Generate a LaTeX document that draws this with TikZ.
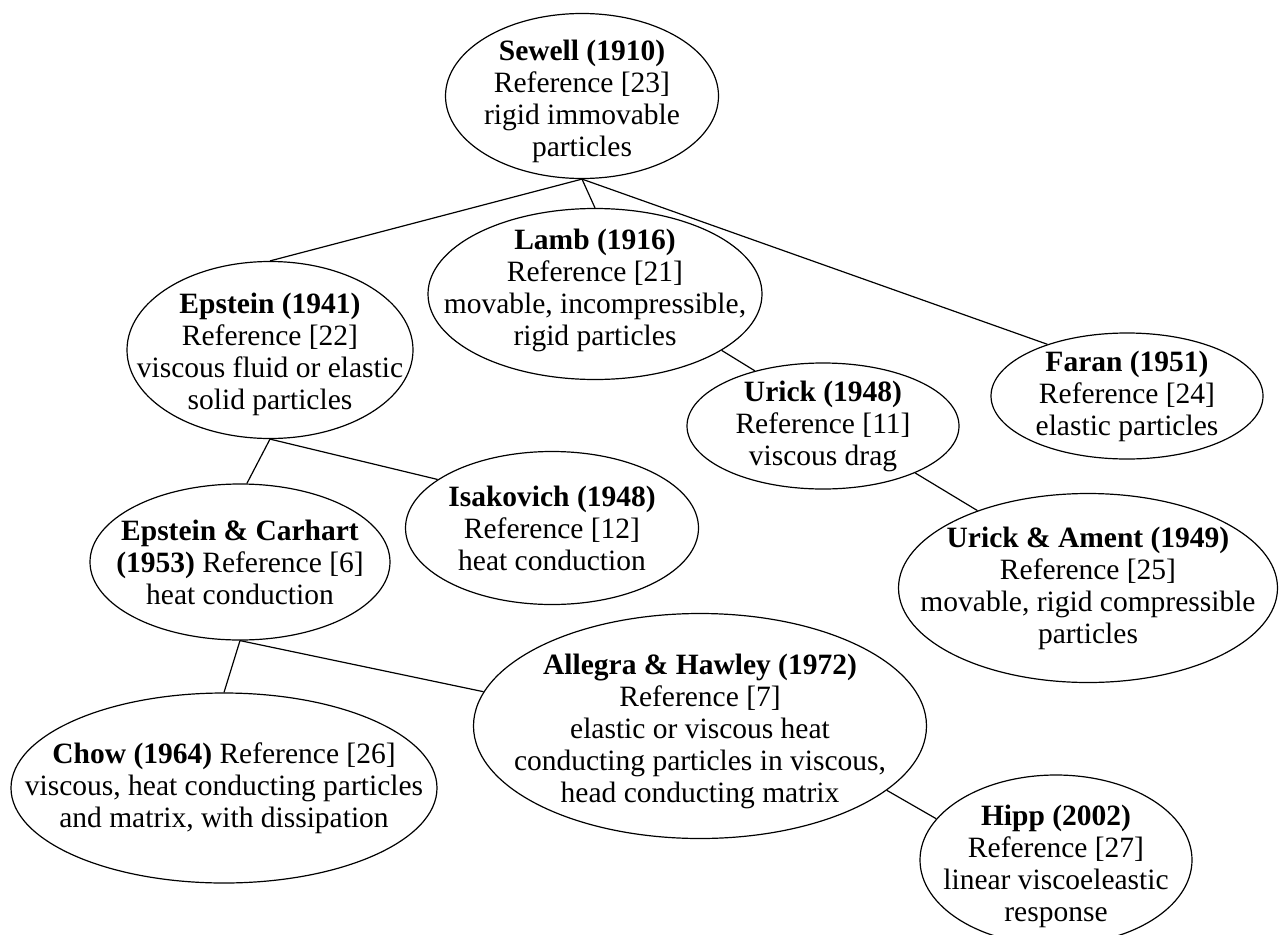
\documentclass[tikz,border=0pt]{standalone}
\usepackage{fontspec}
\setmainfont{Liberation Serif}
\usetikzlibrary{shapes.geometric}

\begin{document}
\begin{tikzpicture}[x=1pt,y=-1pt,line width=1.2pt,
  bubble/.style 2 args={draw,ellipse,inner sep=0pt,minimum width=#1pt,minimum height=#2pt},
  every label/.style={align=center,inner sep=0pt,font=\fontsize{29.5}{32}\selectfont}]
\clip (0,0) rectangle (1279,934);

\node[bubble={273}{165},label={[yshift=-5pt]center:{\textbf{Sewell (1910)}\\Reference [23]\\rigid immovable\\particles}}] (sewell) at (582,96) {};
\node[bubble={334}{171},label={[yshift=4pt]center:{\textbf{Lamb (1916)}\\Reference [21]\\movable, incompressible,\\rigid particles}}] (lamb) at (595,294) {};
\node[bubble={286}{177},label={[yshift=-4pt]center:{\textbf{Epstein (1941)}\\Reference [22]\\viscous fluid or elastic\\solid particles}}] (epstein) at (270,350) {};
\node[bubble={272}{126},label=center:{\textbf{Faran (1951)}\\Reference [24]\\elastic particles}] (faran) at (1127,396) {};
\node[bubble={272}{126},label=center:{\textbf{Urick (1948)}\\Reference [11]\\viscous drag}] (urick) at (823,426) {};
\node[bubble={293}{153},label=center:{\textbf{Isakovich (1948)}\\Reference [12]\\heat conduction}] (isakovich) at (552,528) {};
\node[bubble={300}{156},label=center:{\textbf{Epstein \& Carhart}\\\textbf{(1953)} Reference [6]\\heat conduction}] (carhart) at (240,562) {};
\node[bubble={379}{189},label=center:{\textbf{Urick \& Ament (1949)}\\Reference [25]\\movable, rigid compressible\\particles}] (ament) at (1088,588) {};
\node[bubble={453}{225},label={[yshift=-5pt]center:{\textbf{Allegra \& Hawley (1972)}\\Reference [7]\\elastic or viscous heat\\conducting particles in viscous,\\head conducting matrix}}] (allegra) at (700,726) {};
\node[bubble={426}{190},label=center:{\textbf{Chow (1964)} Reference [26]\\viscous, heat conducting particles\\and matrix, with dissipation}] (chow) at (224,788) {};
\node[bubble={272}{170},label={[yshift=-6pt]center:{\textbf{Hipp (2002)}\\Reference [27]\\linear viscoeleastic\\response}}] (hipp) at (1056,860) {};

% links
\draw (sewell.south) -- (epstein.north);
\draw (sewell.south) -- (lamb.north);
\draw (sewell.south) -- (faran.147);
\draw (lamb.-24) -- (urick.141);
\draw (urick.-27) -- (ament.145);
\draw (epstein.south) -- (carhart.85);
\draw (epstein.south) -- (isakovich.157);
\draw (carhart.south) -- (chow.north);
\draw (carhart.south) -- (allegra.171);
\draw (allegra.-19) -- (hipp.161);
\end{tikzpicture}
\end{document}
